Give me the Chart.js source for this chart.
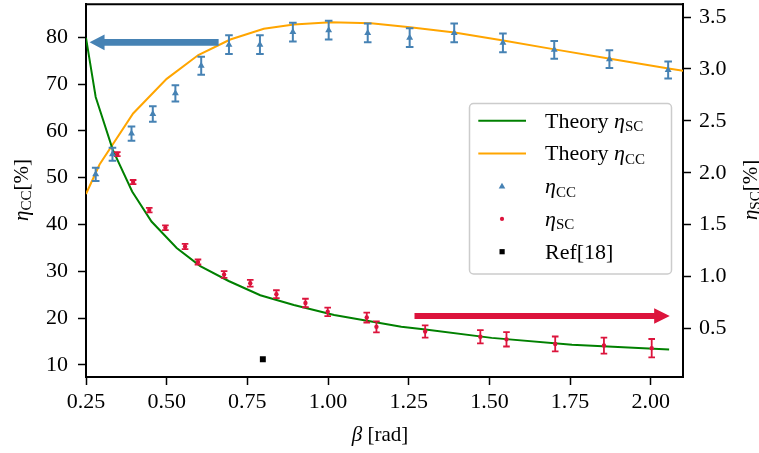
<!DOCTYPE html>
<html>
<head>
<meta charset="utf-8">
<script src="https://cdn.jsdelivr.net/npm/chart.js@4.4.0/dist/chart.umd.min.js"></script>
<style>
  html, body { margin: 0; padding: 0; background: #fff; }
  #wrap { width: 759px; height: 453px; }
</style>
</head>
<body>
<div id="wrap"><canvas id="chart" width="759" height="453"></canvas></div>
<script>
// measured eta_CC (left axis, %) with error bars
const ccBeta = [0.280, 0.332, 0.391, 0.457, 0.527, 0.607, 0.693, 0.789, 0.891, 1.002, 1.123, 1.253, 1.391, 1.542, 1.701, 1.872, 2.054];
const ccEta  = [50.7, 55.0, 59.4, 63.6, 68.0, 73.9, 78.4, 78.4, 81.1, 81.5, 80.9, 79.9, 80.9, 78.8, 77.3, 75.3, 73.0];
const ccErr  = [1.4, 1.4, 1.5, 1.65, 1.75, 1.9, 2.0, 2.0, 2.0, 2.0, 2.0, 2.0, 2.0, 2.0, 1.9, 1.9, 1.8];

// measured eta_SC (right axis, %)
const scBeta = [0.347, 0.396, 0.446, 0.496, 0.557, 0.597, 0.678, 0.759, 0.840, 0.930, 0.999, 1.120, 1.150, 1.301, 1.472, 1.553, 1.704, 1.855, 2.003];
const scEta  = [2.18, 1.91, 1.64, 1.47, 1.29, 1.14, 1.02, 0.935, 0.83, 0.745, 0.66, 0.605, 0.515, 0.47, 0.42, 0.395, 0.35, 0.335, 0.31];
const scErr  = [0.019, 0.02, 0.021, 0.022, 0.025, 0.024, 0.032, 0.032, 0.038, 0.041, 0.041, 0.048, 0.053, 0.059, 0.064, 0.069, 0.072, 0.077, 0.088];

// Ref[18] point (left axis)
const refBeta = [0.798];
const refEta  = [11.2];

// theory curves
const thScBeta = [0.25, 0.28, 0.333, 0.393, 0.453, 0.531, 0.604, 0.692, 0.79, 0.894, 1.019, 1.227, 1.302, 1.507, 1.756, 2.057];
const thScEta  = [3.30, 2.73, 2.22, 1.82, 1.53, 1.275, 1.10, 0.957, 0.82, 0.725, 0.629, 0.517, 0.489, 0.409, 0.342, 0.297];
const thCcBeta = [0.25, 0.292, 0.396, 0.50, 0.598, 0.697, 0.801, 0.894, 1.008, 1.133, 1.254, 1.392, 1.543, 1.702, 1.874, 2.055, 2.12];
const thCcEta  = [46.5, 52.8, 63.7, 71.1, 76.2, 79.5, 81.8, 82.7, 83.2, 83.0, 82.1, 81.0, 79.3, 77.4, 75.4, 73.3, 72.6];

// ticks
const xTicks  = [0.25, 0.5, 0.75, 1.0, 1.25, 1.5, 1.75, 2.0];
const yTicks  = [10, 20, 30, 40, 50, 60, 70, 80];
const y2Ticks = [0.5, 1.0, 1.5, 2.0, 2.5, 3.0, 3.5];

// arrows: [beta tail, beta tip, value]
const ccArrow = [0.661, 0.261, 78.9];
const scArrow = [1.268, 2.059, 0.620];

const FONT = '"Liberation Serif", "DejaVu Serif", serif';
const BLUE = '#4682b4', RED = '#dc143c', GREEN = '#008000', ORANGE = '#ffa500';

function pts(xs, ys) { return xs.map((x, i) => ({x: x, y: ys[i]})); }

function fontFor(kind, size) {
  if (kind === 'i') return 'italic ' + size + 'px ' + FONT;
  if (kind === 'sub') return Math.round(size * 0.7) + 'px ' + FONT;
  return size + 'px ' + FONT;
}
function drawRich(ctx, parts, x, y, size, align) {
  let w = 0;
  parts.forEach(p => { ctx.font = fontFor(p[1], size); w += ctx.measureText(p[0]).width; });
  let cx = align === 'center' ? x - w / 2 : x;
  ctx.textAlign = 'left';
  ctx.textBaseline = 'alphabetic';
  parts.forEach(p => {
    ctx.font = fontFor(p[1], size);
    ctx.fillText(p[0], cx, p[1] === 'sub' ? y + size * 0.16 : y);
    cx += ctx.measureText(p[0]).width;
  });
}

function arrow(ctx, x1, x2, y, body, head, headLen, color) {
  const dir = Math.sign(x2 - x1);
  const hb = x2 - dir * headLen;
  ctx.fillStyle = color;
  ctx.beginPath();
  ctx.moveTo(x1, y - body / 2);
  ctx.lineTo(hb, y - body / 2);
  ctx.lineTo(hb, y - head / 2);
  ctx.lineTo(x2, y);
  ctx.lineTo(hb, y + head / 2);
  ctx.lineTo(hb, y + body / 2);
  ctx.lineTo(x1, y + body / 2);
  ctx.closePath();
  ctx.fill();
}

const extras = {
  id: 'extras',
  beforeDatasetDraw(chart, args) {
    const ds = chart.data.datasets[args.index];
    if (!ds.errors) return;
    const ctx = chart.ctx, xs = chart.scales.x, ys = chart.scales[ds.yAxisID];
    ctx.save();
    ctx.strokeStyle = ds.backgroundColor;
    ctx.lineWidth = ds.errWidth;
    ds.data.forEach((d, i) => {
      const px = xs.getPixelForValue(d.x);
      const top = ys.getPixelForValue(d.y + ds.errors[i]);
      const bot = ys.getPixelForValue(d.y - ds.errors[i]);
      ctx.beginPath();
      ctx.moveTo(px, top); ctx.lineTo(px, bot);
      ctx.moveTo(px - ds.capHalf, top); ctx.lineTo(px + ds.capHalf, top);
      ctx.moveTo(px - ds.capHalf, bot); ctx.lineTo(px + ds.capHalf, bot);
      ctx.stroke();
    });
    ctx.restore();
  },
  afterDatasetsDraw(chart) {
    const ctx = chart.ctx, s = chart.scales;
    ctx.save();
    arrow(ctx, s.x.getPixelForValue(ccArrow[0]), s.x.getPixelForValue(ccArrow[1]),
          s.y.getPixelForValue(ccArrow[2]), 6.7, 15.6, 15, BLUE);
    arrow(ctx, s.x.getPixelForValue(scArrow[0]), s.x.getPixelForValue(scArrow[1]),
          s.y2.getPixelForValue(scArrow[2]), 6, 15.4, 15.6, RED);
    ctx.restore();
  },
  afterDraw(chart) {
    const ctx = chart.ctx, a = chart.chartArea;
    ctx.save();
    // top spine
    ctx.strokeStyle = '#000';
    ctx.lineWidth = 2;
    ctx.beginPath();
    ctx.moveTo(a.left - 1, a.top);
    ctx.lineTo(a.right + 1, a.top);
    ctx.stroke();

    // legend
    const lx = 469.5, ly = 103.5, lw = 202, lh = 170.5;
    ctx.fillStyle = 'rgba(255,255,255,0.8)';
    ctx.strokeStyle = '#cccccc';
    ctx.lineWidth = 1.5;
    ctx.beginPath();
    ctx.roundRect(lx, ly, lw, lh, 4);
    ctx.fill();
    ctx.stroke();

    const rows = [
      {parts: [['Theory ', ''], ['η', 'i'], ['SC', 'sub']], kind: 'line', color: GREEN},
      {parts: [['Theory ', ''], ['η', 'i'], ['CC', 'sub']], kind: 'line', color: ORANGE},
      {parts: [['η', 'i'], ['CC', 'sub']], kind: 'tri', color: BLUE},
      {parts: [['η', 'i'], ['SC', 'sub']], kind: 'dot', color: RED},
      {parts: [['Ref[18]', '']], kind: 'sq', color: '#000'}
    ];
    rows.forEach((r, i) => {
      const ry = ly + 17.2 + i * 32.75;
      ctx.fillStyle = r.color;
      ctx.strokeStyle = r.color;
      if (r.kind === 'line') {
        ctx.lineWidth = 2;
        ctx.beginPath(); ctx.moveTo(478.3, ry); ctx.lineTo(526, ry); ctx.stroke();
      } else if (r.kind === 'tri') {
        ctx.beginPath(); ctx.moveTo(502, ry - 3.5); ctx.lineTo(505.3, ry + 2.3); ctx.lineTo(498.7, ry + 2.3); ctx.closePath(); ctx.fill();
      } else if (r.kind === 'dot') {
        ctx.beginPath(); ctx.arc(502, ry, 2.1, 0, Math.PI * 2); ctx.fill();
      } else {
        ctx.fillRect(499.5, ry - 2.6, 5.2, 5.2);
      }
      ctx.fillStyle = '#000';
      drawRich(ctx, r.parts, 545, ry + 7, 22, 'left');
    });

    // axis titles
    ctx.fillStyle = '#000';
    drawRich(ctx, [['β', 'i'], [' [rad]', '']], 380, 441, 21, 'center');
    ctx.save();
    ctx.translate(28, 190);
    ctx.rotate(-Math.PI / 2);
    drawRich(ctx, [['η', 'i'], ['CC', 'sub'], ['[%]', '']], 0, 0, 21, 'center');
    ctx.restore();
    ctx.save();
    ctx.translate(757, 190);
    ctx.rotate(-Math.PI / 2);
    drawRich(ctx, [['η', 'i'], ['SC', 'sub'], ['[%]', '']], 0, 0, 21, 'center');
    ctx.restore();
    ctx.restore();
  }
};

function noPad(s) { s.paddingTop = 0; s.paddingBottom = 0; s.paddingLeft = 0; s.paddingRight = 0; }

const tickFont = {family: FONT, size: 22};
const gridOpts = {drawOnChartArea: false, drawTicks: true, tickLength: 8, tickWidth: 1.5, tickColor: '#000'};
const borderOpts = {display: true, color: '#000', width: 2};

new Chart(document.getElementById('chart'), {
  type: 'scatter',
  data: {
    datasets: [
      {
        label: 'Theory ηSC',
        data: pts(thScBeta, thScEta),
        yAxisID: 'y2',
        showLine: true,
        borderColor: GREEN,
        borderWidth: 2,
        pointRadius: 0,
        tension: 0,
        order: 3
      },
      {
        label: 'Theory ηCC',
        data: pts(thCcBeta, thCcEta),
        yAxisID: 'y',
        showLine: true,
        borderColor: ORANGE,
        borderWidth: 2,
        pointRadius: 0,
        tension: 0,
        order: 3
      },
      {
        label: 'ηCC',
        data: pts(ccBeta, ccEta),
        yAxisID: 'y',
        errors: ccErr,
        errWidth: 2,
        capHalf: 3.8,
        pointStyle: 'triangle',
        pointRadius: 4,
        backgroundColor: BLUE,
        borderColor: BLUE,
        borderWidth: 0,
        order: 1
      },
      {
        label: 'ηSC',
        data: pts(scBeta, scEta),
        yAxisID: 'y2',
        errors: scErr,
        errWidth: 1.8,
        capHalf: 3.3,
        pointStyle: 'circle',
        pointRadius: 2.2,
        backgroundColor: RED,
        borderColor: RED,
        borderWidth: 0,
        order: 1
      },
      {
        label: 'Ref[18]',
        data: pts(refBeta, refEta),
        yAxisID: 'y',
        pointStyle: 'rect',
        pointRadius: 4.2,
        backgroundColor: '#000',
        borderColor: '#000',
        borderWidth: 0,
        order: 1
      }
    ]
  },
  options: {
    responsive: false,
    animation: false,
    devicePixelRatio: 1,
    layout: {padding: {top: 1, left: 0, right: 0, bottom: 0}},
    plugins: {legend: {display: false}, tooltip: {enabled: false}},
    scales: {
      x: {
        type: 'linear', position: 'bottom', min: 0.25, max: 2.10,
        afterBuildTicks: s => { s.ticks = xTicks.map(v => ({value: v})); },
        afterFit: s => { s.height = 76; noPad(s); },
        ticks: {callback: v => v.toFixed(2), font: tickFont, color: '#000', padding: 4, maxRotation: 0, autoSkip: false},
        grid: gridOpts,
        border: borderOpts
      },
      y: {
        type: 'linear', position: 'left', min: 7.4, max: 87.05,
        afterBuildTicks: s => { s.ticks = yTicks.map(v => ({value: v})); },
        afterFit: s => { s.width = 86; noPad(s); },
        ticks: {callback: v => String(v), font: tickFont, color: '#000', padding: 10, autoSkip: false},
        grid: gridOpts,
        border: borderOpts
      },
      y2: {
        type: 'linear', position: 'right', min: 0.032, max: 3.624,
        afterBuildTicks: s => { s.ticks = y2Ticks.map(v => ({value: v})); },
        afterFit: s => { s.width = 76; noPad(s); },
        ticks: {callback: v => v.toFixed(1), font: tickFont, color: '#000', padding: 8, autoSkip: false},
        grid: gridOpts,
        border: borderOpts
      }
    }
  },
  plugins: [extras]
});
</script>
</body>
</html>
